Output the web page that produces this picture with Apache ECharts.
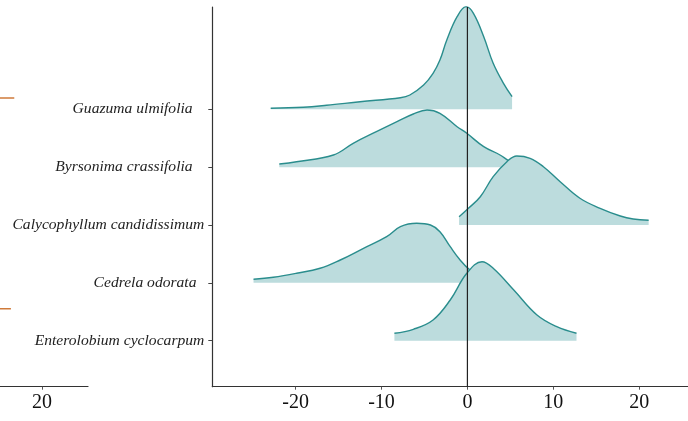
<!DOCTYPE html>
<html><head><meta charset="utf-8">
<script src="https://cdn.jsdelivr.net/npm/echarts@6/dist/echarts.min.js"></script>
<style>html,body{margin:0;padding:0;background:#fff}#c{width:688px;height:421px}</style>
</head><body><div id="c"></div>
<script>
// Categories, bottom (0) to top (4)
const species = ['Enterolobium cyclocarpum', 'Cedrela odorata', 'Calycophyllum candidissimum', 'Byrsonima crassifolia', 'Guazuma ulmifolia'];
const speciesLabels = ['Enterolobium cyclocarpum', 'Cedrela odorata  ', 'Calycophyllum candidissimum', 'Byrsonima crassifolia   ', 'Guazuma ulmifolia   '];
const xTicks = [-20, -10, 0, 10, 20];
const leftPanelTicks = [20];

// Density ridges (x value, scaled density height)
const guazumaX = [-22.9, -19.1, -16.4, -12.5, -7.8, -6.7, -5.1, -4.0, -3.2, -2.4, -1.2, -0.15, 0.7, 1.9, 3.0, 4.2, 5.2];
const guazumaD = [0.017, 0.035, 0.069, 0.131, 0.2, 0.247, 0.42, 0.622, 0.852, 1.198, 1.6, 1.774, 1.659, 1.255, 0.795, 0.449, 0.218];

const byrsonimaX = [-21.9, -19.9, -15.6, -13.3, -10.6, -8.2, -6.3, -4.7, -3.2, -1.2, -0.07, 1.9, 3.8, 4.6, 5.3];
const byrsonimaD = [0.054, 0.094, 0.21, 0.412, 0.613, 0.786, 0.919, 0.988, 0.931, 0.699, 0.585, 0.354, 0.21, 0.13, 0.06];

const calycophyllumX = [-0.97, 0.12, 1.5, 3.0, 4.6, 5.75, 7.3, 8.85, 10.8, 13.1, 15.45, 17.8, 19.3, 21.1];
const calycophyllumD = [0.143, 0.289, 0.489, 0.835, 1.094, 1.193, 1.153, 1.008, 0.748, 0.462, 0.289, 0.156, 0.104, 0.081];

const cedrelaX = [-24.9, -22.6, -19.9, -17.15, -14.8, -12.1, -9.4, -7.8, -5.9, -4.3, -3.2, -2.0, -0.85, 0.3, 1.5, 2.6];
const cedrelaD = [0.061, 0.096, 0.165, 0.252, 0.395, 0.597, 0.798, 0.971, 1.029, 1.0, 0.884, 0.625, 0.395, 0.222, 0.12, 0.07];

const enterolobiumX = [-8.5, -6.3, -4.0, -2.0, -0.07, 1.7, 3.0, 5.4, 8.1, 10.4, 12.7];
const enterolobiumD = [0.128, 0.197, 0.358, 0.704, 1.165, 1.366, 1.252, 0.876, 0.444, 0.242, 0.128];

// Cropped neighbouring panel marks (orange segments)
const leftSegA = [[15, 4.195], [16.7, 4.195]];
const leftSegB = [[15, 0.553], [16.3, 0.553]];

const ridges = [
  {x: guazumaX, d: guazumaD, k: 4},
  {x: byrsonimaX, d: byrsonimaD, k: 3},
  {x: calycophyllumX, d: calycophyllumD, k: 2},
  {x: cedrelaX, d: cedrelaD, k: 1},
  {x: enterolobiumX, d: enterolobiumD, k: 0}
];

const yMin = -0.795, yMax = 5.768;
const serif = '"Liberation Serif", "DejaVu Serif", serif';
const fillColor = '#bcdcdd';
const lineColor = '#2a8d8d';

const series = ridges.map((r, i) => ({
  type: 'line',
  xAxisIndex: 0, yAxisIndex: 0,
  data: r.x.map((v, j) => [v, r.k + r.d[j]]),
  smooth: 0.4,
  symbol: 'none',
  z: 2 + i,
  lineStyle: {color: lineColor, width: 1.4},
  areaStyle: {color: fillColor, opacity: 1, origin: r.k},
  silent: true
}));

series.push({
  type: 'line', xAxisIndex: 0, yAxisIndex: 0,
  data: [[0, yMin], [0, yMax]],
  symbol: 'none', z: 20,
  lineStyle: {color: '#222', width: 1.2}, silent: true
});
series.push({
  type: 'line', xAxisIndex: 1, yAxisIndex: 1, data: leftSegA,
  symbol: 'none', lineStyle: {color: '#cf7a3a', width: 1.5}, silent: true
});
series.push({
  type: 'line', xAxisIndex: 1, yAxisIndex: 1, data: leftSegB,
  symbol: 'none', lineStyle: {color: '#cf7a3a', width: 1.5}, silent: true
});

const chart = echarts.init(document.getElementById('c'), null, {renderer: 'canvas'});
chart.setOption({
  animation: false,
  backgroundColor: '#fff',
  grid: [
    {left: 212.3, top: 7, bottom: 34.3, width: 475.7, containLabel: false},
    {left: 0, top: 7, bottom: 34.3, width: 88, containLabel: false}
  ],
  xAxis: [
    {
      type: 'value', gridIndex: 0, min: -29.7, max: 25.68,
      splitLine: {show: false},
      axisLine: {show: true, onZero: false, lineStyle: {color: '#333', width: 1.2}},
      axisTick: {show: true, length: 3, customValues: xTicks, lineStyle: {color: '#555'}},
      axisLabel: {customValues: xTicks, fontFamily: serif, fontSize: 20, color: '#111', margin: 6}
    },
    {
      type: 'value', gridIndex: 1, min: 15, max: 25.48,
      splitLine: {show: false},
      axisLine: {show: true, onZero: false, lineStyle: {color: '#333', width: 1.2}},
      axisTick: {show: true, length: 3, customValues: leftPanelTicks, lineStyle: {color: '#555'}},
      axisLabel: {customValues: leftPanelTicks, fontFamily: serif, fontSize: 20, color: '#111', margin: 6}
    }
  ],
  yAxis: [
    {
      type: 'value', gridIndex: 0, min: yMin, max: yMax,
      splitLine: {show: false},
      axisLine: {show: true, onZero: false, lineStyle: {color: '#333', width: 1.2}},
      axisTick: {show: true, length: 4, customValues: [0, 1, 2, 3, 4], lineStyle: {color: '#444'}},
      axisLabel: {
        customValues: [0, 1, 2, 3, 4],
        formatter: v => speciesLabels[Math.round(v)] || '',
        fontFamily: serif, fontStyle: 'italic', fontSize: 15.6, color: '#222', margin: 8
      }
    },
    {
      type: 'value', gridIndex: 1, min: yMin, max: yMax, show: false
    }
  ],
  series: series
});
</script>
</body></html>
